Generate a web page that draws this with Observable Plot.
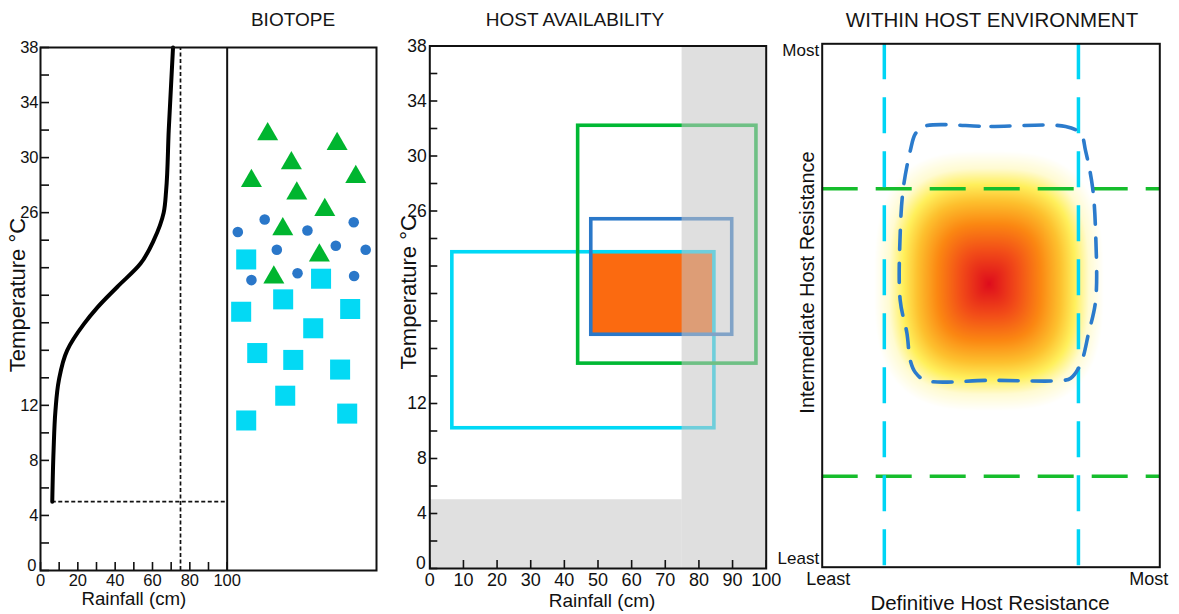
<!DOCTYPE html>
<html><head><meta charset="utf-8">
<script src="https://cdn.jsdelivr.net/npm/d3@7"></script>
<script src="https://cdn.jsdelivr.net/npm/@observablehq/plot@0.6"></script>
<style>
body{margin:0;background:#fff;font-family:"Liberation Sans",Arial,Helvetica,sans-serif;}
#wrap{position:relative;width:1179px;height:614px;overflow:hidden;background:#fff;}
.title{position:absolute;top:8px;line-height:24px;transform:translateX(-50%);white-space:nowrap;color:#151515;}
.panel{position:absolute;top:35px;}
</style></head><body>
<div id="wrap">
  <div class="title" style="left:293px;font-size:19px">BIOTOPE</div>
  <div class="title" style="left:575px;font-size:19px">HOST AVAILABILITY</div>
  <div class="title" style="left:992px;font-size:20.5px">WITHIN HOST ENVIRONMENT</div>
  <div class="panel" id="p1" style="left:0px"></div>
  <div class="panel" id="p2" style="left:390px"></div>
  <div class="panel" id="p3" style="left:780px"></div>
</div>
<script>
const FONT = '"Liberation Sans", Arial, Helvetica, sans-serif';

// ---------- Panel 1: BIOTOPE ----------
const curveRain = [6.3, 7, 8, 9.8, 14.3, 23.2, 30.4, 41.1, 53.6, 60.7, 66, 67.3, 68.7, 71];
const curveTemp = [5, 8.7, 11.6, 13.8, 16, 17.9, 19.1, 20.6, 22.3, 24, 26, 27.6, 32, 38];
const rainThreshold = [75];
const tempThreshold = [5];
const biotopeEdge = [100];

const triRain = [121.7, 158.9, 134.4, 113.0, 168.9, 137.3, 152.3, 129.8, 149.4, 125.0];
const triTemp = [31.7, 31.0, 29.6, 28.3, 28.6, 27.4, 26.2, 24.8, 22.9, 21.3];
const cirRain = [105.7, 120.1, 143.0, 167.8, 126.6, 158.2, 174.2, 113.0, 137.7, 168.0];
const cirTemp = [24.6, 25.5, 24.7, 25.3, 23.3, 23.6, 23.3, 21.1, 21.6, 21.4];
const sqRain = [110.2, 150.3, 130.0, 107.5, 165.9, 146.1, 116.1, 135.4, 160.5, 131.1, 110.2, 164.3];
const sqTemp = [22.6, 21.2, 19.7, 18.8, 19.0, 17.6, 15.8, 15.3, 14.6, 12.7, 10.9, 11.4];

const yTickMarks = [0,2,4,6,8,10,12,14,16,18,20,22,24,26,28,30,32,34,36,38];
const yTickLabels = [0,4,8,12,26,30,34,38];
const xTickMarks1 = [0,10,20,30,40,50,60,70,80,90,100];
const xTickLabels1 = [0,20,40,60,80,100];

// ---------- Panel 2: HOST AVAILABILITY ----------
const xTickLabels2 = [0,10,20,30,40,50,60,70,80,90,100];
const hostName = ["intermediate", "definitive", "vector"];
const hostRain1 = [6.7, 44.1, 48.0];
const hostRain2 = [84.6, 97.1, 89.9];
const hostTemp1 = [10.2, 14.9, 17.0];
const hostTemp2 = [23.0, 32.2, 25.4];
const hostColor = ["#00d9f6", "#00b834", "#2a78c9"];
const overlapRain = [48.0, 84.6];
const overlapTemp = [17.0, 23.0];
const coldRain = [0, 75];
const coldTemp = [0, 5];
const wetRain = [75, 100];
const wetTemp = [0, 38];

// ---------- Panel 3: WITHIN HOST ENVIRONMENT ----------
const defResLines = [0.184, 0.759];
const intResLines = [0.174, 0.723];
const envX = [0.300,0.500,0.721,0.766,0.780,0.801,0.810,0.810,0.789,0.766,0.736,0.715,0.500,0.306,0.276,0.261,0.251,0.231,0.231,0.240,0.261,0.276];
const envY = [0.842,0.842,0.842,0.828,0.796,0.725,0.637,0.510,0.447,0.389,0.361,0.357,0.357,0.357,0.372,0.395,0.447,0.510,0.637,0.723,0.796,0.828];
// infection hot-spot: centre, half-extents to white, and the intensity profile read from centre outwards
const hotCenter = [0.494, 0.541];
const hotHalfX = [0.34, 0.34];      // left, right
const hotHalfY = [0.242, 0.254];    // below, above
const hotProfilePos = [0, 0.25, 0.45, 0.62, 0.75, 0.87, 1];
const hotProfileVal = [1, 0.75, 0.5, 0.3, 0.15, 0.05, 0];
const gradStops = [0, 0.05, 0.15, 0.3, 0.5, 0.75, 1];
const gradColors = ["#ffffff", "#fffbd2", "#fff05c", "#fdc02e", "#fb8712", "#f24d18", "#de0c1c"];
const xLabels3 = ["Least", "Most"];
const yLabels3 = ["Least", "Most"];

// ---------- build ----------
const curve = curveRain.map((r, i) => ({rain: r, temp: curveTemp[i]}));
const tris = triRain.map((r, i) => ({rain: r, temp: triTemp[i]}));
const cirs = cirRain.map((r, i) => ({rain: r, temp: cirTemp[i]}));
const sqs = sqRain.map((r, i) => ({rain: r, temp: sqTemp[i]}));

const baseStyle = {fontFamily: FONT, fontSize: "16px", color: "#111", background: "transparent", overflow: "visible"};

const p1 = Plot.plot({
  width: 395, height: 579,
  marginLeft: 40, marginRight: 19, marginTop: 12, marginBottom: 44,
  x: {domain: [0, 180]},
  y: {domain: [0, 38]},
  style: baseStyle,
  marks: [
    Plot.ruleX(rainThreshold, {y1: 0, y2: 38, stroke: "#111", strokeWidth: 1.7, strokeDasharray: "4,2.5"}),
    Plot.ruleY(tempThreshold, {x1: curveRain[0], x2: biotopeEdge[0], stroke: "#111", strokeWidth: 1.7, strokeDasharray: "4,2.5"}),
    Plot.line(curve, {x: "rain", y: "temp", curve: "monotone-y", stroke: "#000", strokeWidth: 4}),
    Plot.ruleX(biotopeEdge, {stroke: "#111", strokeWidth: 2}),
    Plot.dot(sqs, {x: "rain", y: "temp", symbol: "square", r: 11.3, fill: "#03d9f4", stroke: "none"}),
    Plot.dot(cirs, {x: "rain", y: "temp", symbol: "circle", r: 5.3, fill: "#2a77c9", stroke: "none"}),
    Plot.dot(tris, {x: "rain", y: "temp", symbol: "triangle", r: 7.8, fill: "#00b52f", stroke: "none"}),
    Plot.frame({stroke: "#111", strokeWidth: 2}),
    Plot.axisY(yTickMarks, {tickSize: -9, fill: "none", label: null, strokeWidth: 1.6}),
    Plot.axisY(yTickLabels.slice(1), {tickSize: 0, tickPadding: 2, label: null, fontSize: 16.5}),
    Plot.axisY(yTickLabels.slice(0, 1), {tickSize: 0, tickPadding: 4, dy: -5, label: null, fontSize: 16.5}),
    Plot.axisX(xTickMarks1, {tickSize: -8, fill: "none", label: null, strokeWidth: 1.6}),
    Plot.axisX(xTickLabels1, {tickSize: 0, tickPadding: 4, label: null, fontSize: 16.5}),
    Plot.text(["Rainfall (cm)"], {x: d3.mean(xTickLabels1), frameAnchor: "bottom", textAnchor: "middle", lineAnchor: "middle", dy: 29, fontSize: 18.7, text: d => d}),
    Plot.text(["Temperature °C"], {frameAnchor: "left", rotate: -90, textAnchor: "middle", lineAnchor: "middle", dx: -23, dy: -14, fontSize: 22, text: d => d})
  ]
});
document.getElementById("p1").appendChild(p1);

const hosts = hostName.map((n, i) => ({name: n, x1: hostRain1[i], x2: hostRain2[i], y1: hostTemp1[i], y2: hostTemp2[i], color: hostColor[i]}));

const p2 = Plot.plot({
  width: 390, height: 579,
  marginLeft: 39.3, marginRight: 14.3, marginTop: 10.5, marginBottom: 46,
  x: {domain: [0, 100]},
  y: {domain: [0, 38]},
  style: baseStyle,
  marks: [
    Plot.rect([{}], {x1: coldRain[0], x2: coldRain[1], y1: coldTemp[0], y2: coldTemp[1], fill: "#e0e0e0"}),
    Plot.rect([{}], {x1: overlapRain[0], x2: overlapRain[1], y1: overlapTemp[0], y2: overlapTemp[1], fill: "#fb6a10"}),
    Plot.rect(hosts, {x1: "x1", x2: "x2", y1: "y1", y2: "y2", stroke: "color", fill: "none", strokeWidth: 3.6}),
    Plot.rect([{}], {x1: wetRain[0], x2: wetRain[1], y1: wetTemp[0], y2: wetTemp[1], fill: "#c6c6c6", fillOpacity: 0.56}),
    Plot.frame({stroke: "#111", strokeWidth: 2}),
    Plot.axisY(yTickMarks, {tickSize: -8, fill: "none", label: null, strokeWidth: 1.6}),
    Plot.axisY(yTickLabels.slice(1), {tickSize: 0, tickPadding: 3, label: null, fontSize: 17.5}),
    Plot.axisY(yTickLabels.slice(0, 1), {tickSize: 0, tickPadding: 4, dy: -5, label: null, fontSize: 17.5}),
    Plot.axisX(xTickLabels2, {tickSize: -8, fill: "none", label: null, strokeWidth: 1.6}),
    Plot.axisX(xTickLabels2, {tickSize: 0, tickPadding: 5, label: null, fontSize: 18}),
    Plot.text(["Rainfall (cm)"], {frameAnchor: "bottom", textAnchor: "middle", lineAnchor: "middle", dx: 4, dy: 32, fontSize: 19, text: d => d}),
    Plot.text(["Temperature °C"], {frameAnchor: "left", rotate: -90, textAnchor: "middle", lineAnchor: "middle", dx: -21, dy: -15, fontSize: 22, text: d => d})
  ]
});
document.getElementById("p2").appendChild(p2);

const hotProfile = d3.scaleLinear().domain(hotProfilePos).range(hotProfileVal).clamp(true);
const hotValue = (x, y) => {
  const dx = x - hotCenter[0], dy = y - hotCenter[1];
  const u = Math.abs(dx) / (dx < 0 ? hotHalfX[0] : hotHalfX[1]);
  const v = Math.abs(dy) / (dy < 0 ? hotHalfY[0] : hotHalfY[1]);
  return hotProfile(Math.cbrt(u ** 3 + v ** 3));
};
const env = envX.map((x, i) => ({x, y: envY[i]}));

const p3 = Plot.plot({
  width: 399, height: 579,
  marginLeft: 41.7, marginRight: 19.7, marginTop: 8.3, marginBottom: 47.3,
  x: {domain: [0, 1], axis: null},
  y: {domain: [0, 1], axis: null},
  color: {type: "linear", domain: gradStops, range: gradColors, interpolate: "rgb"},
  style: baseStyle,
  marks: [
    Plot.raster({x1: 0, x2: 1, y1: 0, y2: 1, fill: hotValue, pixelSize: 1, imageRendering: "auto"}),
    Plot.ruleY(intResLines, {stroke: "#16bd2c", strokeWidth: 3.5, strokeDasharray: "36,18"}),
    Plot.ruleX(defResLines, {stroke: "#00d5f5", strokeWidth: 3.5, strokeDasharray: "36,18"}),
    Plot.line(env, {x: "x", y: "y", curve: "catmull-rom-closed", stroke: "#2b7bcc", strokeWidth: 3.6, strokeDasharray: "19,14"}),
    Plot.frame({stroke: "#111", strokeWidth: 2}),
    Plot.text([xLabels3[0]], {frameAnchor: "bottom-left", textAnchor: "middle", lineAnchor: "middle", dx: 6, dy: 12, fontSize: 18, text: d => d}),
    Plot.text([xLabels3[1]], {frameAnchor: "bottom-right", textAnchor: "middle", lineAnchor: "middle", dx: -11, dy: 12, fontSize: 18, text: d => d}),
    Plot.text([yLabels3[1]], {frameAnchor: "top-left", textAnchor: "end", lineAnchor: "middle", dx: -3, dy: 7, fontSize: 17, text: d => d}),
    Plot.text([yLabels3[0]], {frameAnchor: "bottom-left", textAnchor: "end", lineAnchor: "middle", dx: -3, dy: -9, fontSize: 17, text: d => d}),
    Plot.text(["Definitive Host Resistance"], {frameAnchor: "bottom", textAnchor: "middle", lineAnchor: "middle", dx: -1, dy: 36, fontSize: 20.5, text: d => d}),
    Plot.text(["Intermediate Host Resistance"], {frameAnchor: "left", rotate: -90, textAnchor: "middle", lineAnchor: "middle", dx: -15, dy: -23, fontSize: 20, text: d => d})
  ]
});
document.getElementById("p3").appendChild(p3);
</script>
</body></html>
